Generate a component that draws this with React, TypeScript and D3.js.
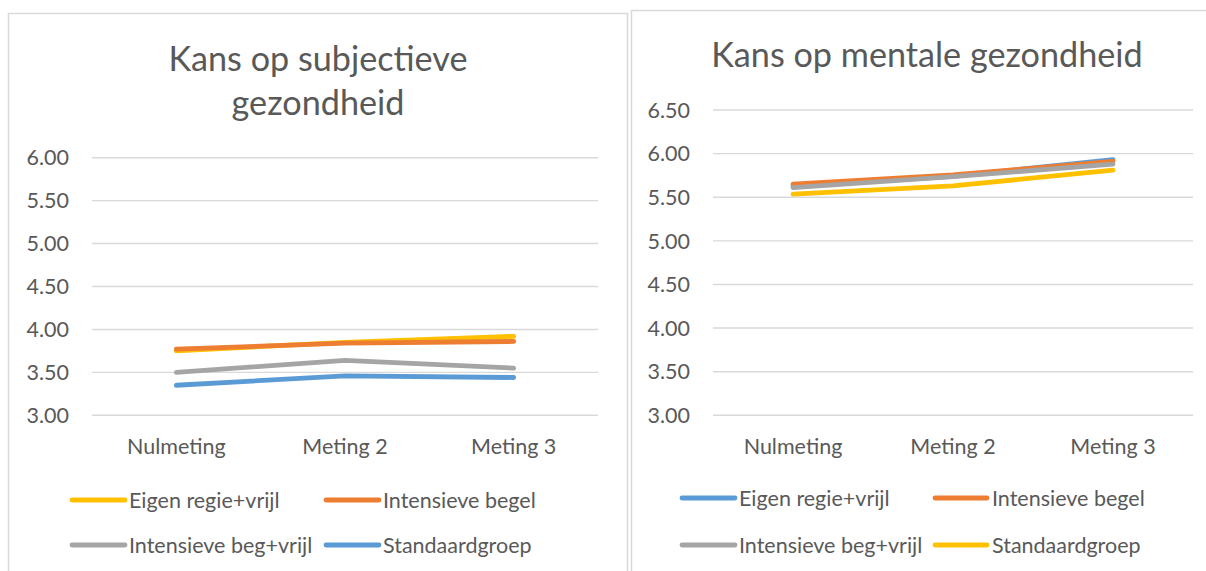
import React from "react";
import * as d3 from "d3";

// ---------- data ----------
const categories = ["Nulmeting", "Meting 2", "Meting 3"];

const subjTitle = ["Kans op subjectieve", "gezondheid"];
const subjTicks = [3, 3.5, 4, 4.5, 5, 5.5, 6];
const subjNames = ["Eigen regie+vrijl", "Intensieve begel", "Intensieve beg+vrijl", "Standaardgroep"];
const subjColors = ["#FFC000", "#ED7D31", "#A5A5A5", "#5B9BD5"];
const subjEigenRegie = [3.75, 3.85, 3.92];
const subjIntensief = [3.77, 3.84, 3.86];
const subjIntensiefVrij = [3.5, 3.64, 3.55];
const subjStandaard = [3.35, 3.46, 3.44];

const mentTitle = ["Kans op mentale gezondheid"];
const mentTicks = [3, 3.5, 4, 4.5, 5, 5.5, 6, 6.5];
const mentNames = ["Eigen regie+vrijl", "Intensieve begel", "Intensieve beg+vrijl", "Standaardgroep"];
const mentColors = ["#5B9BD5", "#ED7D31", "#A5A5A5", "#FFC000"];
const mentEigenRegie = [5.63, 5.74, 5.93];
const mentIntensief = [5.65, 5.755, 5.91];
const mentIntensiefVrij = [5.61, 5.735, 5.88];
const mentStandaard = [5.535, 5.63, 5.81];

// ---------- styling ----------
const FONT = "Lato, Carlito, Calibri, sans-serif";
const TEXT = "#595959";
const GRID = "#D9D9D9";

type Layout = {
  panelX: number;
  panelY: number;
  panelW: number;
  plotLeft: number;
  plotRight: number;
  yTopPx: number;
  yBottomPx: number;
  tickRight: number;
  titleCx: number;
  titleBaselines: number[];
  catBaseline: number;
  legendRows: number[];
  legendCols: { lineX0: number; lineX1: number; textX: number }[];
};

type Props = {
  title: string[];
  ticks: number[];
  names: string[];
  colors: string[];
  values: number[][];
  layout: Layout;
};

function LineChart({ title, ticks, names, colors, values, layout: L }: Props) {
  const x = d3
    .scalePoint<string>()
    .domain(categories)
    .range([L.plotLeft, L.plotRight])
    .padding(0.5);
  const y = d3
    .scaleLinear()
    .domain([d3.min(ticks) as number, d3.max(ticks) as number])
    .range([L.yBottomPx, L.yTopPx]);
  const line = d3
    .line<number>()
    .x((_, i) => x(categories[i]) as number)
    .y((d) => y(d));

  return (
    <g>
      <rect
        x={L.panelX}
        y={L.panelY}
        width={L.panelW}
        height={700}
        fill="#fff"
        stroke={GRID}
        strokeWidth={1.5}
      />
      {title.map((t, i) => (
        <text
          key={t}
          x={L.titleCx}
          y={L.titleBaselines[i]}
          textAnchor="middle"
          fontFamily={FONT}
          fontSize={34.2}
          fill={TEXT}
        >
          {t}
        </text>
      ))}
      {ticks.map((t) => (
        <g key={t}>
          <line
            x1={L.plotLeft}
            x2={L.plotRight}
            y1={y(t)}
            y2={y(t)}
            stroke={GRID}
            strokeWidth={1.4}
          />
          <text
            x={L.tickRight}
            y={y(t)}
            dy="0.36em"
            textAnchor="end"
            fontFamily={FONT}
            fontSize={21.5}
            fill={TEXT}
          >
            {d3.format(".2f")(t)}
          </text>
        </g>
      ))}
      {categories.map((c) => (
        <text
          key={c}
          x={x(c)}
          y={L.catBaseline}
          textAnchor="middle"
          fontFamily={FONT}
          fontSize={21.5}
          fill={TEXT}
        >
          {c}
        </text>
      ))}
      {values.map((v, i) => (
        <path
          key={names[i]}
          d={line(v) as string}
          fill="none"
          stroke={colors[i]}
          strokeWidth={4.8}
          strokeLinecap="round"
          strokeLinejoin="round"
        />
      ))}
      {names.map((n, i) => {
        const row = L.legendRows[Math.floor(i / 2)];
        const col = L.legendCols[i % 2];
        return (
          <g key={n}>
            <line
              x1={col.lineX0}
              x2={col.lineX1}
              y1={row}
              y2={row}
              stroke={colors[i]}
              strokeWidth={4.8}
              strokeLinecap="round"
            />
            <text
              x={col.textX}
              y={row}
              dy="0.36em"
              fontFamily={FONT}
              fontSize={21.5}
              fill={TEXT}
            >
              {n}
            </text>
          </g>
        );
      })}
    </g>
  );
}

const leftLayout: Layout = {
  panelX: 8.5,
  panelY: 13.5,
  panelW: 619,
  plotLeft: 92,
  plotRight: 598,
  yTopPx: 157.7,
  yBottomPx: 415.3,
  tickRight: 69,
  titleCx: 318,
  titleBaselines: [71, 115],
  catBaseline: 454,
  legendRows: [500, 545],
  legendCols: [
    { lineX0: 72, lineX1: 125, textX: 129 },
    { lineX0: 326, lineX1: 379, textX: 383 },
  ],
};

const rightLayout: Layout = {
  panelX: 631.5,
  panelY: 10.5,
  panelW: 620,
  plotLeft: 713,
  plotRight: 1193,
  yTopPx: 110,
  yBottomPx: 415.3,
  tickRight: 690,
  titleCx: 927,
  titleBaselines: [67],
  catBaseline: 454,
  legendRows: [498, 545],
  legendCols: [
    { lineX0: 682, lineX1: 735, textX: 739 },
    { lineX0: 935, lineX1: 987, textX: 992 },
  ],
};

export default function App() {
  return (
    <svg
      width={1206}
      height={571}
      style={{ position: "absolute", left: 0, top: 0, background: "#fff" }}
    >
      <rect x={0} y={0} width={1206} height={571} fill="#fff" />
      <LineChart
        title={subjTitle}
        ticks={subjTicks}
        names={subjNames}
        colors={subjColors}
        values={[subjEigenRegie, subjIntensief, subjIntensiefVrij, subjStandaard]}
        layout={leftLayout}
      />
      <LineChart
        title={mentTitle}
        ticks={mentTicks}
        names={mentNames}
        colors={mentColors}
        values={[mentEigenRegie, mentIntensief, mentIntensiefVrij, mentStandaard]}
        layout={rightLayout}
      />
    </svg>
  );
}
